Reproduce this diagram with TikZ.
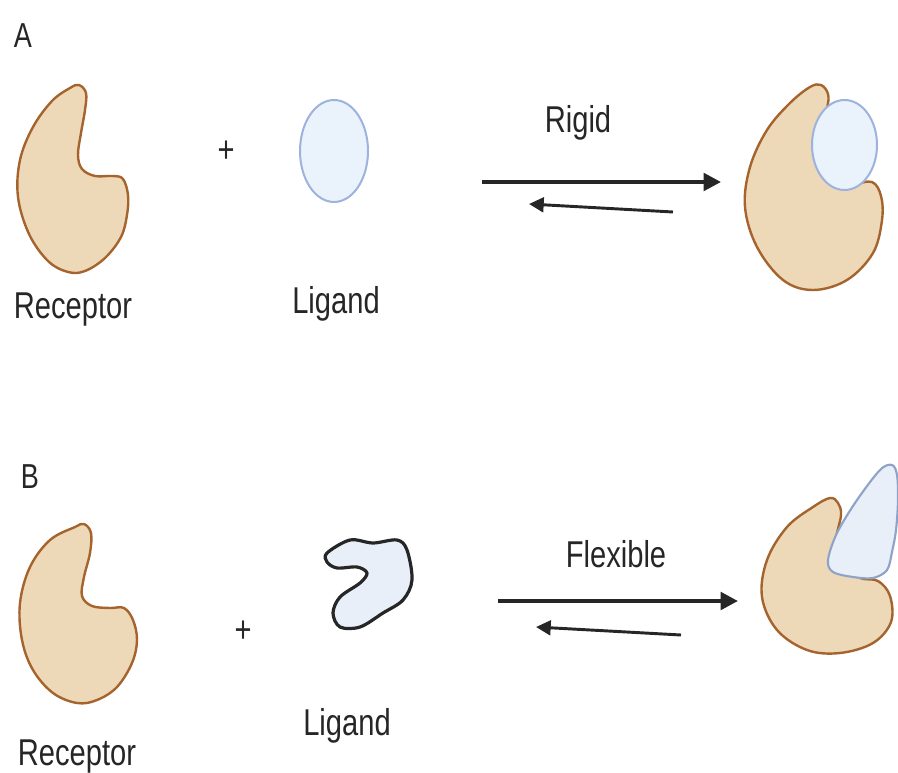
\documentclass[tikz,border=0pt]{standalone}
\usepackage{fontspec}
\setmainfont{Liberation Sans}[FakeStretch=0.78]
\usetikzlibrary{arrows.meta}
\definecolor{recfill}{HTML}{EDD8B7}
\definecolor{recline}{HTML}{A5642E}
\definecolor{ligfill}{HTML}{EAF2FC}
\definecolor{ligline}{HTML}{9DB3DD}
\definecolor{flexfill}{HTML}{E9EFF8}
\definecolor{flexline}{HTML}{8FA3C9}
\definecolor{ink}{HTML}{262626}
\tikzset{
  receptor/.style={fill=recfill, draw=recline, line width=1.8pt, line join=round},
  rigidlig/.style={fill=ligfill, draw=ligline, line width=1.5pt},
  flexlig/.style={fill=flexfill, draw=ink, line width=2.4pt, line join=round},
  boundlig/.style={fill=flexfill, draw=flexline, line width=1.6pt, line join=round},
  label/.style={inner sep=0pt, anchor=base, text=ink, font=\fontsize{28}{30}\selectfont},
  panel/.style={inner sep=0pt, anchor=base, text=ink, font=\fontsize{26}{28}\selectfont},
  plus/.style={inner sep=0pt, text=ink, font=\fontsize{28}{30}\selectfont},
  fwd/.style={draw=ink, line width=3pt, -{Triangle[length=13pt,width=13pt]}},
  bwd/.style={draw=ink, line width=2.2pt, -{Triangle[length=11pt,width=11pt]}},
}
\begin{document}
\begin{tikzpicture}[x=0.75pt, y=-0.75pt]
\useasboundingbox (0,0) rectangle (898,773);

% ---------- Panel A : rigid binding ----------
\node[panel] (labA) at (23,48) {A};

% free receptor
\draw[receptor] plot[smooth cycle, tension=0.6] coordinates {
  (70,88) (79,85) (86,93) (85,110) (81,133) (78,155) (82,169) (95,176)
  (113,176) (123,179) (128,195) (127,215) (121,237) (105,258) (85,271)
  (68,272) (48,261) (29,234) (18,197) (20,160) (33,127) (52,101)};
\node[label] (recA) at (73,318) {Receptor};

\node[plus] (plusA) at (226,152) {+};

% free rigid ligand
\draw[rigidlig] (334,151) ellipse [x radius=34, y radius=51];
\node[label] (ligA) at (336,313) {Ligand};

% equilibrium arrows
\coordinate (fA1) at (482,182);
\coordinate (fA2) at (721,182);
\coordinate (bA1) at (673,212);
\coordinate (bA2) at (529,204);
\draw[fwd] (fA1) -- (fA2);
\draw[bwd] (bA1) -- (bA2);
\node[label] (rigid) at (578,133) {Rigid};

% receptor--ligand complex
\draw[receptor] plot[smooth cycle, tension=0.6] coordinates {
  (810,87) (821,85) (828,94) (827,108) (819,130) (820,158) (832,178)
  (852,184) (872,182) (881,196) (882,220) (873,253) (847,280) (813,290)
  (783,280) (757,247) (745,207) (750,167) (767,130) (790,103)};
\draw[rigidlig] (844.5,145) ellipse [x radius=32.5, y radius=45];

% ---------- Panel B : flexible binding ----------
\node[panel] (labB) at (30,488) {B};

% free receptor
\draw[receptor] plot[smooth cycle, tension=0.6] coordinates {
  (75,527) (84,524) (91,533) (90,553) (84,577) (82,596) (92,606) (110,608)
  (124,608) (133,620) (137,640) (132,663) (117,687) (97,700) (77,703)
  (53,693) (33,670) (22,640) (20,603) (30,567) (50,540)};
\node[label] (recB) at (77,765) {Receptor};

\node[plus] (plusB) at (243,632) {+};

% free flexible ligand
\draw[flexlig] plot[smooth cycle, tension=0.55] coordinates {
  (327,553) (350,540) (373,543) (397,540) (407,550) (412,580) (403,600)
  (383,613) (360,627) (340,627) (333,613) (340,597) (360,583) (367,573)
  (357,567) (337,568) (327,562)};
\node[label] (ligB) at (347,735) {Ligand};

% equilibrium arrows
\coordinate (fB1) at (498,601);
\coordinate (fB2) at (738,601);
\coordinate (bB1) at (681,635);
\coordinate (bB2) at (536,627);
\draw[fwd] (fB1) -- (fB2);
\draw[bwd] (bB1) -- (bB2);
\node[label] (flex) at (616,567) {Flexible};

% receptor--ligand complex
\draw[receptor] plot[smooth cycle, tension=0.6] coordinates {
  (830,498) (838,503) (841,515) (836,540) (838,565) (860,578) (878,581)
  (890,596) (891,622) (873,643) (840,653) (807,650) (777,630) (762,597)
  (767,560) (787,527) (813,507)};
\draw[boundlig] plot[smooth cycle, tension=0.55] coordinates {
  (892,465) (897,475) (898,500) (896,530) (892,552) (887,570) (873,578)
  (853,577) (833,572) (828,560) (837,533) (857,500) (880,470)};
\end{tikzpicture}
\end{document}
